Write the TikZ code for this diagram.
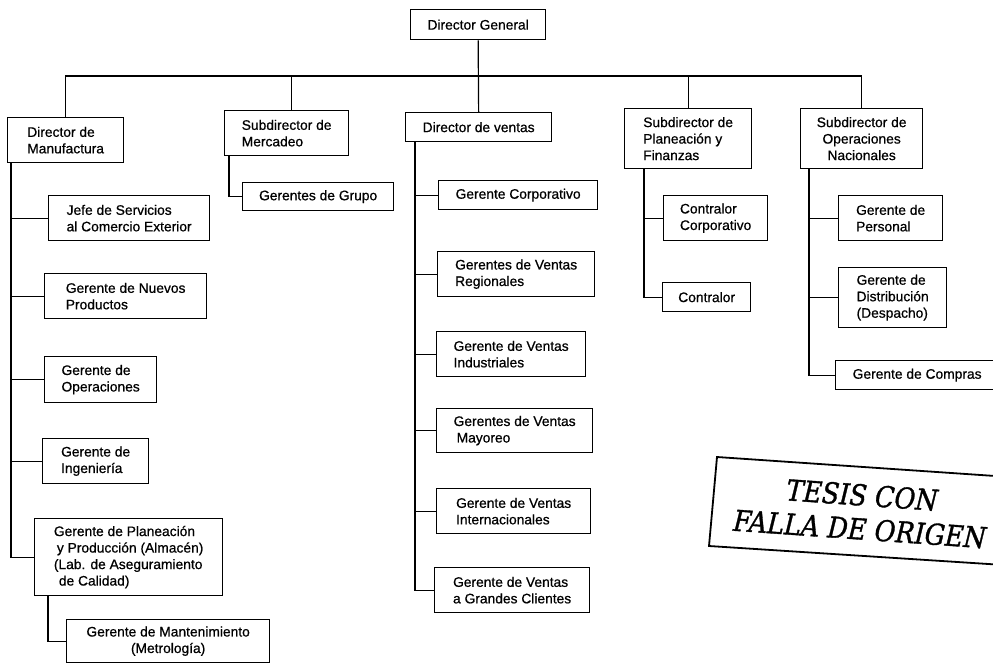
\documentclass[tikz,border=0pt]{standalone}
\usepackage{fontspec}
\setmainfont{Liberation Sans}[RawFeature={embolden=0.7}]
\newfontfamily\stampfont{DejaVu Serif}[RawFeature={embolden=1.2}]
\usetikzlibrary{calc}

\tikzset{
  unit/.style={draw, line width=1.3pt, rectangle, anchor=north west,
    inner xsep=4pt, inner ysep=0pt, align=left,
    font=\fontsize{13.8}{16.5}\selectfont},
  wire/.style={line width=1.2pt},
  stamptext/.style={font=\stampfont\itshape\fontsize{29}{34}\selectfont,
    align=center, inner sep=0pt}
}
\newcommand{\unitbox}[6]{%
  \node[unit, minimum width=#4pt, minimum height=#5pt] (#1) at (#2,#3) {#6};}

\begin{document}
\begin{tikzpicture}[x=1pt, y=-1pt]
\useasboundingbox (0,0) rectangle (993,664);
\clip (0,0) rectangle (993,664);

% top level
\unitbox{dg}{410}{9}{135}{30}{Director General}
\unitbox{manuf}{7}{117}{116}{45}{Director de\\Manufactura}
\unitbox{merc}{224}{110}{124}{45}{Subdirector de\\Mercadeo}
\unitbox{ventas}{405}{112}{146}{29}{Director de ventas}
\unitbox{pf}{624}{108}{127}{60}{Subdirector de\\Planeación y\\Finanzas}
\node[unit, align=center, minimum width=122pt, minimum height=60pt] (opnac) at (800,108)
  {Subdirector de\\Operaciones\\Nacionales};

% manufacturing branch
\unitbox{jefe}{48}{195}{161}{45}{Jefe de Servicios\\al Comercio Exterior}
\unitbox{nuevos}{44}{273}{162}{45}{Gerente de Nuevos\\Productos}
\unitbox{oper}{44}{356}{112}{46}{Gerente de\\Operaciones}
\unitbox{ing}{42}{438}{106}{45}{Gerente de\\Ingeniería}
\unitbox{plan}{34}{518}{188}{77}{Gerente de Planeación\\\hspace{3pt}y Producción (Almacén)\\(Lab. de Aseguramiento\\\hspace{5pt}de Calidad)}
\node[unit, align=center, minimum width=203pt, minimum height=43pt] (mant) at (66,619)
  {Gerente de Mantenimiento\\(Metrología)};

% marketing branch
\unitbox{grupo}{242}{182}{151}{28}{Gerentes de Grupo}

% sales branch
\unitbox{corp}{438}{180}{159}{29}{Gerente Corporativo}
\unitbox{regio}{437}{251}{157}{45}{Gerentes de Ventas\\Regionales}
\unitbox{indus}{436}{331}{149}{45}{Gerente de Ventas\\Industriales}
\unitbox{mayor}{436}{408}{156}{44}{Gerentes de Ventas\\\hspace{3pt}Mayoreo}
\unitbox{inter}{436}{488}{154}{45}{Gerente de Ventas\\Internacionales}
\unitbox{grand}{434}{567}{155}{45}{Gerente de Ventas\\a Grandes Clientes}

% planning and finance branch
\unitbox{ccorp}{663}{195}{104}{45}{Contralor\\Corporativo}
\unitbox{contr}{662}{282}{88}{29}{Contralor}

% national operations branch
\unitbox{pers}{838}{195}{104}{45}{Gerente de\\Personal}
\unitbox{distr}{838}{267}{108}{60}{Gerente de\\Distribución\\(Despacho)}
\unitbox{compras}{835}{360}{163}{29}{Gerente de Compras}

% main bus
\coordinate (bus) at (479,76);
\draw[wire] (manuf.north) |- (bus) -| (opnac.north);
\draw[wire] ($(merc.north)+(5,0)$) -- ($(merc.north |- bus)+(5,0)$);
\draw[wire] (pf.north) -- (pf.north |- bus);
\draw[wire] (dg.south) -- (ventas.north);

% manufacturing spine
\coordinate (m0) at ($(manuf.south west)+(4,0)$);
\draw[wire] (m0) |- (plan.west);
\foreach \c in {jefe,nuevos,oper,ing}
  \draw[wire] (m0 |- \c.west) -- (\c.west);
\coordinate (p0) at ($(plan.south west)+(14,0)$);
\draw[wire] (p0) |- (mant.west);

% marketing spine
\coordinate (g0) at ($(merc.south west)+(5,0)$);
\draw[wire] (g0) |- (grupo.west);

% sales spine
\coordinate (v0) at ($(ventas.south west)+(10,0)$);
\draw[wire] (v0) |- (grand.west);
\foreach \c in {corp,regio,indus,mayor,inter}
  \draw[wire] (v0 |- \c.west) -- (\c.west);

% planning and finance spine
\coordinate (f0) at ($(pf.south west)+(20,0)$);
\draw[wire] (f0) |- (contr.west);
\draw[wire] (f0 |- ccorp.west) -- (ccorp.west);

% national operations spine
\coordinate (o0) at ($(opnac.south west)+(9,0)$);
\draw[wire] (o0) |- (compras.west);
\foreach \c in {pers,distr}
  \draw[wire] (o0 |- \c.west) -- (\c.west);

% stamp
\draw[line width=1.8pt] (717,457) -- (1010,477) -- (1004,565) -- (709,546) -- cycle;
\node[stamptext, rotate=-4, xscale=0.88] (stamp) at (861,512)
  {TESIS CON\\FALLA DE ORIGEN};
\end{tikzpicture}
\end{document}
